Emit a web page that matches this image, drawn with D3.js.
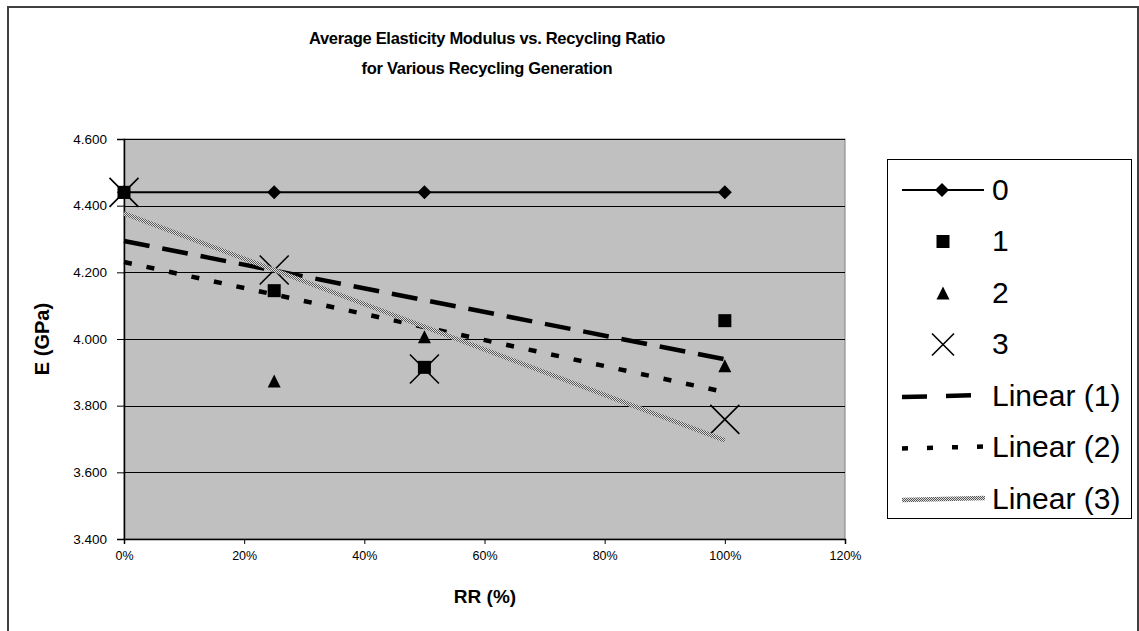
<!DOCTYPE html>
<html>
<head>
<meta charset="utf-8">
<script src="https://cdn.jsdelivr.net/npm/d3@7"></script>
<style>
  body { margin: 0; background: #fff; }
  svg { display: block; font-family: "Liberation Sans", Arial, sans-serif; }
</style>
</head>
<body>
<svg id="chart" width="1139" height="631"></svg>
<script>
// data
var ratios = [0, 25, 50, 100];          // RR (%)
var gen0 = [4.44, 4.44, 4.44, 4.44];
var gen1 = [4.44, 4.145, 3.915, 4.055];
var gen2 = [4.44, 3.874, 4.007, 3.92];
var gen3 = [4.44, 4.207, 3.91, 3.759];
var xTicks = [0, 20, 40, 60, 80, 100, 120];
var yTicks = [3.4, 3.6, 3.8, 4.0, 4.2, 4.4, 4.6];
var legendLabels = ['0', '1', '2', '3', 'Linear (1)', 'Linear (2)', 'Linear (3)'];
var titleLines = ['Average Elasticity Modulus vs. Recycling Ratio', 'for Various Recycling Generation'];

var svg = d3.select('#chart'),
    plot = { left: 124, top: 139, right: 845, bottom: 539 };

var x = d3.scaleLinear().domain([0, 120]).range([plot.left, plot.right]),
    y = d3.scaleLinear().domain([3.4, 4.6]).range([plot.bottom, plot.top]);

// mottled pattern for Linear (3)
var defs = svg.append('defs');
var pat = defs.append('pattern')
    .attr('id', 'mottle')
    .attr('patternUnits', 'userSpaceOnUse')
    .attr('width', 2).attr('height', 2);
pat.append('rect').attr('width', 2).attr('height', 2).attr('fill', '#e0e0e0');
pat.append('rect').attr('width', 1).attr('height', 1).attr('fill', '#555');
pat.append('rect').attr('x', 1).attr('y', 1).attr('width', 1).attr('height', 1).attr('fill', '#555');

// outer chart frame
svg.append('rect')
  .attr('x', 8).attr('y', 7).attr('width', 1130).attr('height', 640)
  .attr('fill', 'none').attr('stroke', '#404040').attr('stroke-width', 2);

// title
svg.append('g').selectAll('text')
  .data(titleLines)
  .enter().append('text')
  .attr('x', 487)
  .attr('y', function(d, i) { return 44 + i * 30; })
  .attr('text-anchor', 'middle')
  .attr('font-size', 16.5).attr('font-weight', 'bold')
  .attr('letter-spacing', -0.3)
  .text(function(d) { return d; });

// plot background
svg.append('rect')
  .attr('x', plot.left).attr('y', plot.top)
  .attr('width', plot.right - plot.left).attr('height', plot.bottom - plot.top)
  .attr('fill', '#c0c0c0').attr('stroke', '#808080').attr('stroke-width', 1);

// gridlines
svg.append('g').selectAll('line')
  .data(yTicks.slice(1))
  .enter().append('line')
  .attr('x1', plot.left).attr('x2', plot.right)
  .attr('y1', function(d) { return Math.round(y(d)) + 0.5; })
  .attr('y2', function(d) { return Math.round(y(d)) + 0.5; })
  .attr('stroke', '#000').attr('stroke-width', 1);

// axes
var xAxis = svg.append('g')
  .attr('transform', 'translate(0,' + plot.bottom + ')')
  .call(d3.axisBottom(x).tickValues(xTicks).tickSize(5).tickPadding(7)
    .tickFormat(function(d) { return d + '%'; }));
var yAxis = svg.append('g')
  .attr('transform', 'translate(' + plot.left + ',0)')
  .call(d3.axisLeft(y).tickValues(yTicks).tickSize(7).tickPadding(10)
    .tickFormat(d3.format('.3f')));

[xAxis, yAxis].forEach(function(ax) {
  ax.select('.domain').attr('stroke', '#000').attr('stroke-width', 1.5);
  ax.selectAll('.tick line').attr('stroke', '#000');
  ax.selectAll('.tick text').attr('fill', '#000')
    .attr('font-family', '"Liberation Sans", Arial, sans-serif');
});
xAxis.selectAll('.tick text').attr('font-size', 12.5);
yAxis.selectAll('.tick text').attr('font-size', 13.5);

// axis titles
svg.append('text')
  .attr('x', 485).attr('y', 603)
  .attr('text-anchor', 'middle')
  .attr('font-size', 19).attr('font-weight', 'bold')
  .text('RR (%)');
svg.append('text')
  .attr('transform', 'translate(49,339) rotate(-90)')
  .attr('text-anchor', 'middle')
  .attr('font-size', 20).attr('font-weight', 'bold')
  .text('E (GPa)');

// marker shapes
function diamond(g, cx, cy, s) {
  g.append('path')
    .attr('d', 'M' + cx + ',' + (cy - s) + 'L' + (cx + s) + ',' + cy + 'L' + cx + ',' + (cy + s) + 'L' + (cx - s) + ',' + cy + 'Z')
    .attr('fill', '#000');
}
function square(g, cx, cy, s) {
  g.append('rect')
    .attr('x', cx - s).attr('y', cy - s).attr('width', 2 * s).attr('height', 2 * s)
    .attr('fill', '#000');
}
function triangle(g, cx, cy, s) {
  g.append('path')
    .attr('d', 'M' + cx + ',' + (cy - s) + 'L' + (cx + s) + ',' + (cy + s) + 'L' + (cx - s) + ',' + (cy + s) + 'Z')
    .attr('fill', '#000');
}
function cross(g, cx, cy, s) {
  g.append('path')
    .attr('d', 'M' + (cx - s) + ',' + (cy - s) + 'L' + (cx + s) + ',' + (cy + s)
      + 'M' + (cx + s) + ',' + (cy - s) + 'L' + (cx - s) + ',' + (cy + s))
    .attr('stroke', '#000').attr('stroke-width', 1.6).attr('fill', 'none');
}

// least squares trend line from a series
function fit(xs, ys) {
  var mx = d3.mean(xs), my = d3.mean(ys), sxy = 0, sxx = 0;
  xs.forEach(function(v, i) {
    sxy += (v - mx) * (ys[i] - my);
    sxx += (v - mx) * (v - mx);
  });
  var b = sxy / sxx, a = my - b * mx;
  return function(v) { return a + b * v; };
}

var trendStyles = [
  { data: gen1, stroke: '#000', width: 4.5, dash: '26,13', legendDash: '25,19' },
  { data: gen2, stroke: '#000', width: 4.5, dash: '8,15', legendDash: '6,19' },
  { data: gen3, stroke: 'url(#mottle)', width: 4.5, dash: null, legendDash: null }
];

var marks = svg.append('g');

// series 0 line
marks.append('path')
  .datum(gen0)
  .attr('d', d3.line()
    .x(function(d, i) { return x(ratios[i]); })
    .y(function(d) { return y(d); }))
  .attr('fill', 'none').attr('stroke', '#000').attr('stroke-width', 2);

gen0.forEach(function(v, i) { diamond(marks, x(ratios[i]), y(v), 7); });
gen2.forEach(function(v, i) { triangle(marks, x(ratios[i]), y(v), 6.5); });
gen1.forEach(function(v, i) { square(marks, x(ratios[i]), y(v), 6.5); });
gen3.forEach(function(v, i) { cross(marks, x(ratios[i]), y(v), 14.5); });

// trend lines
trendStyles.forEach(function(t) {
  var f = fit(ratios, t.data),
      x0 = d3.min(ratios), x1 = d3.max(ratios);
  marks.append('line')
    .attr('x1', x(x0)).attr('y1', y(f(x0)))
    .attr('x2', x(x1)).attr('y2', y(f(x1)))
    .attr('stroke', t.stroke).attr('stroke-width', t.width)
    .attr('stroke-dasharray', t.dash);
});
// end of plot

// legend
var lg = svg.append('g');
lg.append('rect')
  .attr('x', 887.5).attr('y', 159.5).attr('width', 244).attr('height', 359)
  .attr('fill', '#fff').attr('stroke', '#000').attr('stroke-width', 1);

var rowY = function(i) { return 190 + i * 51.5; };

lg.selectAll('text')
  .data(legendLabels)
  .enter().append('text')
  .attr('x', 992)
  .attr('y', function(d, i) { return rowY(i) + 9.5; })
  .attr('font-size', 30)
  .text(function(d) { return d; });

lg.append('line')
  .attr('x1', 902).attr('x2', 984).attr('y1', rowY(0)).attr('y2', rowY(0))
  .attr('stroke', '#000').attr('stroke-width', 2);
diamond(lg, 942, rowY(0), 7);
square(lg, 943, rowY(1), 6.5);
triangle(lg, 943, rowY(2), 6.5);
cross(lg, 943, rowY(3), 11);
trendStyles.forEach(function(t, i) {
  lg.append('line')
    .attr('x1', 902).attr('x2', 985)
    .attr('y1', rowY(4 + i) + 1).attr('y2', rowY(4 + i) - 1)
    .attr('stroke', t.stroke).attr('stroke-width', t.width)
    .attr('stroke-dasharray', t.legendDash);
});
// end of legend
</script>
</body>
</html>
